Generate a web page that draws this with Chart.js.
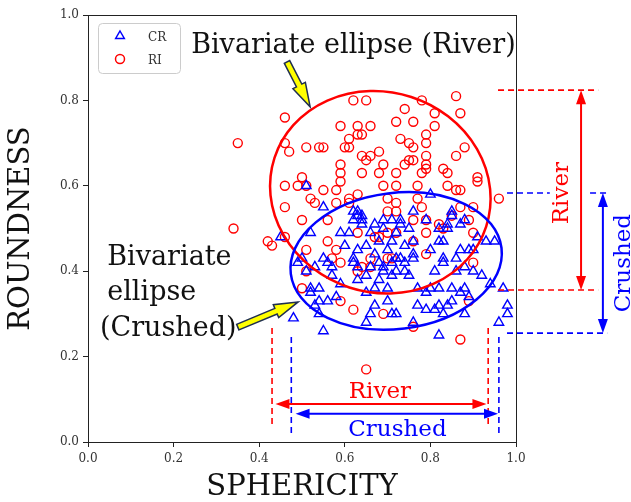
<!DOCTYPE html>
<html>
<head>
<meta charset="utf-8">
<script src="https://cdn.jsdelivr.net/npm/chart.js@4.4.1/dist/chart.umd.min.js"></script>
<style>
  html, body { margin: 0; padding: 0; background: #fff; }
</style>
</head>
<body>
<canvas id="chart" width="631" height="502"></canvas>
<script>
// CR = crushed sand (blue triangles), RI = river sand (red circles)
const crSphericity = [
  0.51, 0.55, 0.52, 0.45, 0.59, 0.61, 0.60, 0.62, 0.63, 0.64,
  0.62, 0.64, 0.67, 0.69, 0.71, 0.73, 0.63, 0.65, 0.67, 0.55,
  0.50, 0.49, 0.51, 0.53, 0.57, 0.62, 0.66, 0.52, 0.54, 0.56,
  0.57, 0.59, 0.54, 0.56, 0.58, 0.63, 0.65, 0.67, 0.65, 0.68,
  0.69, 0.71, 0.70, 0.73, 0.74, 0.72, 0.74, 0.68, 0.63, 0.62,
  0.67, 0.65, 0.71, 0.77, 0.79, 0.82, 0.84, 0.77, 0.80, 0.82,
  0.85, 0.81, 0.83, 0.87, 0.89, 0.90, 0.86, 0.88, 0.92, 0.94,
  0.95, 0.88, 0.88, 0.89, 0.70, 0.79, 0.80, 0.82, 0.84, 0.85,
  0.88, 0.91, 0.76, 0.75, 0.70, 0.71, 0.66, 0.48, 0.55, 0.82,
  0.96, 0.98, 0.52, 0.53, 0.54, 0.66, 0.72, 0.76, 0.81, 0.83,
  0.85, 0.87, 0.79, 0.97, 0.98, 0.80, 0.85, 0.84, 0.87, 0.76,
  0.73, 0.75, 0.69, 0.68, 0.72, 0.76, 0.82, 0.83, 0.93, 0.74,
  0.76, 0.71, 0.69, 0.83, 0.86, 0.90, 0.72, 0.63, 0.64
];
const crRoundness = [
  0.60, 0.55, 0.49, 0.48, 0.49, 0.49, 0.46, 0.54, 0.53, 0.52,
  0.52, 0.51, 0.51, 0.52, 0.52, 0.52, 0.45, 0.46, 0.44, 0.43,
  0.43, 0.42, 0.40, 0.41, 0.41, 0.42, 0.41, 0.36, 0.36, 0.42,
  0.39, 0.37, 0.33, 0.33, 0.34, 0.38, 0.39, 0.36, 0.35, 0.42,
  0.40, 0.39, 0.33, 0.43, 0.40, 0.43, 0.42, 0.38, 0.41, 0.43,
  0.32, 0.28, 0.30, 0.32, 0.31, 0.32, 0.32, 0.36, 0.36, 0.36,
  0.36, 0.40, 0.42, 0.45, 0.45, 0.45, 0.40, 0.41, 0.39, 0.37,
  0.47, 0.30, 0.36, 0.34, 0.36, 0.52, 0.45, 0.47, 0.50, 0.53,
  0.52, 0.48, 0.43, 0.39, 0.45, 0.47, 0.49, 0.29, 0.26, 0.25,
  0.28, 0.32, 0.35, 0.32, 0.30, 0.30, 0.30, 0.28, 0.31, 0.30,
  0.33, 0.35, 0.35, 0.36, 0.30, 0.58, 0.54, 0.51, 0.51, 0.54,
  0.51, 0.50, 0.50, 0.47, 0.49, 0.47, 0.50, 0.47, 0.47, 0.46,
  0.44, 0.42, 0.41, 0.43, 0.43, 0.40, 0.40, 0.54, 0.53
];
const riSphericity = [
  0.62, 0.65, 0.78, 0.86, 0.74, 0.87, 0.81, 0.46, 0.72, 0.76,
  0.81, 0.59, 0.63, 0.66, 0.79, 0.61, 0.63, 0.64, 0.35, 0.46,
  0.47, 0.51, 0.54, 0.55, 0.60, 0.61, 0.73, 0.75, 0.76, 0.79,
  0.88, 0.59, 0.64, 0.65, 0.66, 0.86, 0.79, 0.68, 0.75, 0.76,
  0.74, 0.79, 0.79, 0.69, 0.68, 0.83, 0.84, 0.91, 0.78, 0.72,
  0.59, 0.64, 0.50, 0.46, 0.49, 0.51, 0.52, 0.53, 0.55, 0.58,
  0.59, 0.58, 0.61, 0.61, 0.63, 0.46, 0.50, 0.34, 0.42, 0.43,
  0.46, 0.56, 0.51, 0.56, 0.58, 0.57, 0.59, 0.63, 0.51, 0.63,
  0.64, 0.66, 0.66, 0.69, 0.72, 0.77, 0.84, 0.86, 0.87, 0.91,
  0.96, 0.70, 0.72, 0.77, 0.78, 0.70, 0.72, 0.76, 0.79, 0.82,
  0.83, 0.85, 0.87, 0.89, 0.90, 0.70, 0.72, 0.68, 0.79, 0.76,
  0.70, 0.71, 0.79, 0.90, 0.67, 0.90, 0.50, 0.59, 0.62, 0.69,
  0.76, 0.89, 0.87, 0.65
];
const riRoundness = [
  0.80, 0.80, 0.80, 0.81, 0.78, 0.77, 0.77, 0.76, 0.75, 0.75,
  0.74, 0.74, 0.74, 0.74, 0.72, 0.71, 0.72, 0.72, 0.70, 0.70,
  0.68, 0.69, 0.69, 0.69, 0.69, 0.69, 0.71, 0.70, 0.69, 0.70,
  0.69, 0.65, 0.67, 0.66, 0.67, 0.67, 0.67, 0.68, 0.66, 0.66,
  0.65, 0.65, 0.64, 0.65, 0.63, 0.64, 0.63, 0.62, 0.63, 0.63,
  0.63, 0.63, 0.62, 0.60, 0.60, 0.60, 0.57, 0.56, 0.59, 0.59,
  0.61, 0.56, 0.56, 0.57, 0.58, 0.55, 0.52, 0.50, 0.47, 0.46,
  0.48, 0.52, 0.45, 0.47, 0.45, 0.43, 0.42, 0.49, 0.40, 0.40,
  0.41, 0.41, 0.43, 0.60, 0.60, 0.60, 0.60, 0.59, 0.59, 0.61,
  0.57, 0.57, 0.56, 0.57, 0.55, 0.54, 0.54, 0.52, 0.52, 0.51,
  0.50, 0.53, 0.55, 0.52, 0.49, 0.49, 0.49, 0.48, 0.49, 0.47,
  0.43, 0.43, 0.44, 0.42, 0.48, 0.55, 0.36, 0.33, 0.31, 0.30,
  0.27, 0.33, 0.24, 0.17
];
const tickValues = [0, 0.2, 0.4, 0.6, 0.8, 1.0];

// bivariate ellipses: centre, semi-axes (data units), tilt in degrees
const ellipseCentre = { River: [0.683, 0.585], Crushed: [0.72, 0.424] };
const ellipseAxes = { River: [0.26, 0.234], Crushed: [0.248, 0.159] };
const ellipseTilt = { River: 18, Crushed: -7 };
// spans marked with arrows
const sphericitySpan = { River: [0.43, 0.935], Crushed: [0.475, 0.96] };
const roundnessSpan = { River: [0.356, 0.824], Crushed: [0.255, 0.583] };

const RED = "#ff0000";
const BLUE = "#0000ff";
const SERIF = '"DejaVu Serif", serif';

function toPoints(xs, ys) {
  return xs.map((x, i) => ({ x: x, y: ys[i] }));
}

function dashed(ctx, x1, y1, x2, y2, color) {
  ctx.save();
  ctx.strokeStyle = color;
  ctx.lineWidth = 1.6;
  ctx.setLineDash([6, 4]);
  ctx.beginPath();
  ctx.moveTo(x1, y1);
  ctx.lineTo(x2, y2);
  ctx.stroke();
  ctx.restore();
}

function head(ctx, x, y, ux, uy, color) {
  const L = 14, W = 5;
  ctx.fillStyle = color;
  ctx.beginPath();
  ctx.moveTo(x, y);
  ctx.lineTo(x - ux * L - uy * W, y - uy * L + ux * W);
  ctx.lineTo(x - ux * L + uy * W, y - uy * L - ux * W);
  ctx.closePath();
  ctx.fill();
}

function doubleArrow(ctx, x1, y1, x2, y2, color) {
  const len = Math.hypot(x2 - x1, y2 - y1);
  const ux = (x2 - x1) / len, uy = (y2 - y1) / len;
  ctx.save();
  ctx.strokeStyle = color;
  ctx.lineWidth = 2;
  ctx.beginPath();
  ctx.moveTo(x1 + ux * 10, y1 + uy * 10);
  ctx.lineTo(x2 - ux * 10, y2 - uy * 10);
  ctx.stroke();
  head(ctx, x2, y2, ux, uy, color);
  head(ctx, x1, y1, -ux, -uy, color);
  ctx.restore();
}

function blockArrow(ctx, tx, ty, hx, hy) {
  const len = Math.hypot(hx - tx, hy - ty);
  const ux = (hx - tx) / len, uy = (hy - ty) / len;
  const nx = -uy, ny = ux;
  const w1 = 3, w2 = 7, hl = 24;
  const bx = hx - ux * hl, by = hy - uy * hl;
  ctx.save();
  ctx.fillStyle = "#ffff00";
  ctx.strokeStyle = "#1f2f4f";
  ctx.lineWidth = 1.5;
  ctx.beginPath();
  ctx.moveTo(tx + nx * w1, ty + ny * w1);
  ctx.lineTo(bx + nx * w1, by + ny * w1);
  ctx.lineTo(bx + nx * w2, by + ny * w2);
  ctx.lineTo(hx, hy);
  ctx.lineTo(bx - nx * w2, by - ny * w2);
  ctx.lineTo(bx - nx * w1, by - ny * w1);
  ctx.lineTo(tx - nx * w1, ty - ny * w1);
  ctx.closePath();
  ctx.fill();
  ctx.stroke();
  ctx.restore();
}

function text(ctx, str, x, y, size, color, align, rot) {
  ctx.save();
  ctx.font = size + "px " + SERIF;
  ctx.fillStyle = color;
  ctx.textAlign = align || "left";
  ctx.textBaseline = rot ? "middle" : "alphabetic";
  ctx.translate(x, y);
  if (rot) ctx.rotate(rot);
  ctx.fillText(str, 0, 0);
  ctx.restore();
}

const annotations = {
  id: "annotations",
  afterDatasetsDraw(chart) {
    const ctx = chart.ctx;
    const xs = chart.scales.x, ys = chart.scales.y;
    const k = xs.getPixelForValue(1) - xs.getPixelForValue(0);
    [["River", RED], ["Crushed", BLUE]].forEach(([name, color]) => {
      const c = ellipseCentre[name], a = ellipseAxes[name];
      ctx.save();
      ctx.strokeStyle = color;
      ctx.lineWidth = 2.5;
      ctx.beginPath();
      ctx.ellipse(xs.getPixelForValue(c[0]), ys.getPixelForValue(c[1]),
        a[0] * k, a[1] * k, ellipseTilt[name] * Math.PI / 180, 0, 2 * Math.PI);
      ctx.stroke();
      ctx.restore();
    });
  },
  afterDraw(chart) {
    const ctx = chart.ctx;
    const area = chart.chartArea;
    const xs = chart.scales.x, ys = chart.scales.y;
    const X = (v) => xs.getPixelForValue(v);
    const Y = (v) => ys.getPixelForValue(v);

    // frame
    ctx.save();
    ctx.strokeStyle = "#222";
    ctx.lineWidth = 1;
    ctx.strokeRect(area.left + 0.5, area.top + 0.5, area.right - area.left, area.bottom - area.top);
    ctx.restore();

    // sphericity spans below the clouds
    const sr = sphericitySpan.River, sc = sphericitySpan.Crushed;
    dashed(ctx, X(sr[0]), Y(0.267), X(sr[0]), Y(0.033), RED);
    dashed(ctx, X(sr[1]), Y(0.267), X(sr[1]), Y(0.033), RED);
    dashed(ctx, X(sc[0]), Y(0.246), X(sc[0]), Y(0.012), BLUE);
    dashed(ctx, X(sc[1]), Y(0.246), X(sc[1]), Y(0.012), BLUE);
    doubleArrow(ctx, X(sr[0] + 0.008), Y(0.089), X(sr[1] - 0.004), Y(0.089), RED);
    doubleArrow(ctx, X(sc[0] + 0.01), Y(0.066), X(sc[1] - 0.002), Y(0.066), BLUE);
    text(ctx, "River", X(0.682), Y(0.117), 23, RED, "center", 0.0001);
    text(ctx, "Crushed", X(0.723), Y(0.028), 23, BLUE, "center", 0.0001);

    // roundness spans to the right
    const rr = roundnessSpan.River, rc = roundnessSpan.Crushed;
    dashed(ctx, X(0.958), Y(rr[1]), X(1.192), Y(rr[1]), RED);
    dashed(ctx, X(0.958), Y(rr[0]), X(1.192), Y(rr[0]), RED);
    dashed(ctx, X(0.979), Y(rc[1]), X(1.079), Y(rc[1]), BLUE);
    dashed(ctx, X(1.173), Y(rc[1]), X(1.213), Y(rc[1]), BLUE);
    dashed(ctx, X(0.979), Y(rc[0]), X(1.213), Y(rc[0]), BLUE);
    doubleArrow(ctx, X(1.152), Y(rr[1]), X(1.152), Y(rr[0]), RED);
    doubleArrow(ctx, X(1.203), Y(rc[1]), X(1.203), Y(rc[0]), BLUE);
    text(ctx, "River", X(1.107), Y(0.583), 23, RED, "center", -Math.PI / 2);
    text(ctx, "Crushed", X(1.252), Y(0.419), 23, BLUE, "center", -Math.PI / 2);

    // ellipse labels with pointers
    text(ctx, "Bivariate ellipse (River)", X(0.241), Y(0.911), 27, "#111", "left");
    blockArrow(ctx, X(0.465), Y(0.89), X(0.519), Y(0.785));
    text(ctx, "Bivariate", X(0.045), Y(0.415), 27, "#111", "left");
    text(ctx, "ellipse", X(0.045), Y(0.333), 27, "#111", "left");
    text(ctx, "(Crushed)", X(0.028), Y(0.248), 27, "#111", "left");
    blockArrow(ctx, X(0.35), Y(0.269), X(0.491), Y(0.328));

    // legend
    const lx = area.left + 10, ly = area.top + 8;
    ctx.save();
    ctx.fillStyle = "rgba(255,255,255,0.85)";
    ctx.strokeStyle = "#cccccc";
    ctx.lineWidth = 1;
    ctx.beginPath();
    ctx.roundRect(lx + 0.5, ly + 0.5, 82, 50, 4);
    ctx.fill();
    ctx.stroke();
    ctx.lineWidth = 1.5;
    ctx.strokeStyle = BLUE;
    const tx = lx + 22, ty = ly + 13, r = 5;
    ctx.beginPath();
    ctx.moveTo(tx, ty - r);
    ctx.lineTo(tx + r * 0.866, ty + r * 0.5);
    ctx.lineTo(tx - r * 0.866, ty + r * 0.5);
    ctx.closePath();
    ctx.stroke();
    ctx.strokeStyle = RED;
    ctx.beginPath();
    ctx.arc(tx, ly + 36, 4.5, 0, 2 * Math.PI);
    ctx.stroke();
    ctx.restore();
    text(ctx, "CR", lx + 50, ty + 5, 12, "#333", "left");
    text(ctx, "RI", lx + 50, ly + 41, 12, "#333", "left");
  }
};

new Chart(document.getElementById("chart"), {
  type: "scatter",
  data: {
    datasets: [
      {
        label: "CR",
        data: toPoints(crSphericity, crRoundness),
        pointStyle: "triangle",
        pointRadius: 5.5,
        borderColor: BLUE,
        backgroundColor: "rgba(0,0,0,0)",
        borderWidth: 1.4,
      },
      {
        label: "RI",
        data: toPoints(riSphericity, riRoundness),
        pointStyle: "circle",
        pointRadius: 4.5,
        borderColor: RED,
        backgroundColor: "rgba(0,0,0,0)",
        borderWidth: 1.4,
      },
    ],
  },
  options: {
    responsive: false,
    animation: false,
    layout: { padding: { top: 15, right: 115, left: 0, bottom: 0 } },
    plugins: { legend: { display: false }, tooltip: { enabled: false } },
    scales: {
      x: {
        type: "linear",
        min: 0,
        max: 1,
        afterFit: (s) => { s.height = 60; },
        afterBuildTicks: (s) => { s.ticks = tickValues.map((v) => ({ value: v })); },
        ticks: {
          callback: (v) => v.toFixed(1),
          font: { family: SERIF, size: 12 },
          color: "#333",
          padding: 5,
          maxRotation: 0,
        },
        grid: { drawOnChartArea: false, drawTicks: true, tickLength: 5, color: "#222" },
        border: { display: false },
        title: {
          display: true,
          text: "SPHERICITY",
          font: { family: SERIF, size: 29, lineHeight: 1 },
          color: "#111",
          padding: { top: 0, bottom: 0 },
        },
      },
      y: {
        type: "linear",
        min: 0,
        max: 1,
        afterFit: (s) => { s.width = 88; },
        afterBuildTicks: (s) => { s.ticks = tickValues.map((v) => ({ value: v })); },
        ticks: {
          callback: (v) => v.toFixed(1),
          font: { family: SERIF, size: 12 },
          color: "#333",
          padding: 4,
        },
        grid: { drawOnChartArea: false, drawTicks: true, tickLength: 5, color: "#222" },
        border: { display: false },
        title: {
          display: true,
          text: "ROUNDNESS",
          font: { family: SERIF, size: 29, lineHeight: 1 },
          color: "#111",
          padding: { top: 7, bottom: 0 },
        },
      },
    },
  },
  plugins: [annotations],
});
</script>
</body>
</html>
